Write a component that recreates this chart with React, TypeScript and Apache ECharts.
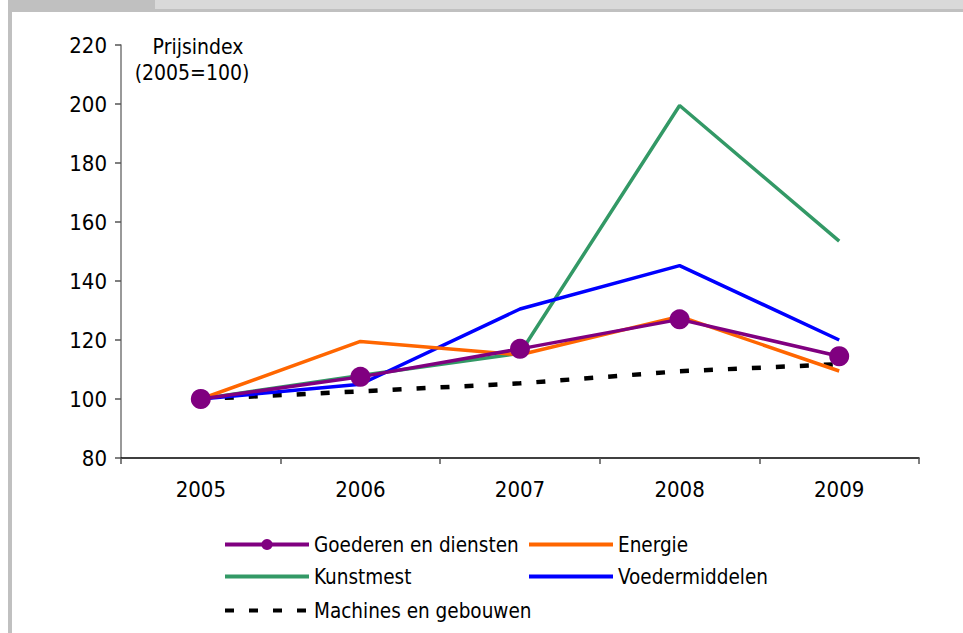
import React, { useEffect, useRef } from "react";
import * as echarts from "echarts";

const years = ["2005", "2006", "2007", "2008", "2009"];
const goederen = [100, 107.5, 117, 127, 114.5];
const energie = [100, 119.5, 115, 128, 109.5];
const kunstmest = [100, 108, 115.5, 199.5, 153.5];
const voedermiddelen = [100, 105, 130.5, 145.2, 120];
const machines = [100, 102.6, 105.3, 109.4, 111.8];

const FONT = "'DejaVu Sans Condensed', 'Liberation Sans Narrow', sans-serif";

export default function App() {
  const ref = useRef<HTMLDivElement>(null);
  useEffect(() => {
    if (!ref.current) return;
    const chart = echarts.init(ref.current, undefined, { renderer: "svg" });
    const legendBase = {
      orient: "horizontal",
      itemWidth: 84,
      itemHeight: 14,
      padding: 0,
      textStyle: { fontFamily: FONT, fontSize: 20.5, color: "#000" },
      lineStyle: { width: 4 },
      selectedMode: false,
    };
    const noSymbol = { color: "rgba(0,0,0,0)", borderWidth: 0, opacity: 0 };
    chart.setOption({
      animation: false,
      backgroundColor: "#fff",
      textStyle: { fontFamily: FONT },
      grid: { left: 121, right: 44, top: 45, bottom: 175, containLabel: false },
      xAxis: {
        type: "category",
        data: years,
        boundaryGap: true,
        axisLine: { lineStyle: { color: "#000", width: 1.5 } },
        axisTick: { show: true, length: 6, lineStyle: { color: "#555", width: 1.5 }, alignWithLabel: false },
        axisLabel: { fontFamily: FONT, fontSize: 22, color: "#000", margin: 20 },
        splitLine: { show: false },
      },
      yAxis: {
        type: "value",
        min: 80,
        max: 220,
        interval: 20,
        axisLine: { show: true, lineStyle: { color: "#777", width: 1.5 } },
        axisTick: { show: true, length: 6, inside: false, lineStyle: { color: "#555", width: 1.5 } },
        axisLabel: { fontFamily: FONT, fontSize: 22, color: "#000", margin: 14 },
        splitLine: { show: false },
      },
      legend: [
        { ...legendBase, left: 223, top: 534, data: ["Goederen en diensten"] },
        { ...legendBase, left: 527, top: 534, itemStyle: noSymbol, data: ["Energie"] },
        { ...legendBase, left: 223, top: 566, itemStyle: noSymbol, data: ["Kunstmest"] },
        { ...legendBase, left: 527, top: 566, itemStyle: noSymbol, data: ["Voedermiddelen"] },
        { ...legendBase, left: 223, top: 600, itemStyle: noSymbol, data: ["Machines en gebouwen"] },
      ],
      graphic: [
        { type: "rect", shape: { x: 8, y: 0, width: 4, height: 633 }, style: { fill: "#c0c0c0" }, z: 100 },
        { type: "rect", shape: { x: 8, y: 0, width: 147, height: 12 }, style: { fill: "#c0c0c0" }, z: 100 },
        { type: "rect", shape: { x: 155, y: 0, width: 808, height: 9 }, style: { fill: "#d9d9d9" }, z: 100 },
        { type: "rect", shape: { x: 155, y: 9, width: 808, height: 3 }, style: { fill: "#c0c0c0" }, z: 100 },
        {
          type: "text",
          x: 198,
          y: 47,
          style: { text: "Prijsindex", fontFamily: FONT, fontSize: 21, fill: "#000", textAlign: "center", textVerticalAlign: "middle" },
        },
        {
          type: "text",
          x: 192,
          y: 73,
          style: { text: "(2005=100)", fontFamily: FONT, fontSize: 21, fill: "#000", textAlign: "center", textVerticalAlign: "middle" },
        },
      ],
      series: [
        {
          name: "Machines en gebouwen",
          type: "line",
          data: machines,
          symbol: "none",
          z: 2,
          lineStyle: { color: "#000", width: 4.5, type: [9, 15] },
          itemStyle: { color: "#000" },
        },
        {
          name: "Kunstmest",
          type: "line",
          data: kunstmest,
          symbol: "none",
          z: 3,
          lineStyle: { color: "#339966", width: 3.5 },
          itemStyle: { color: "#339966" },
        },
        {
          name: "Voedermiddelen",
          type: "line",
          data: voedermiddelen,
          symbol: "none",
          z: 4,
          lineStyle: { color: "#0000ff", width: 3.5 },
          itemStyle: { color: "#0000ff" },
        },
        {
          name: "Energie",
          type: "line",
          data: energie,
          symbol: "none",
          z: 5,
          lineStyle: { color: "#ff6600", width: 3.5 },
          itemStyle: { color: "#ff6600" },
        },
        {
          name: "Goederen en diensten",
          type: "line",
          data: goederen,
          symbol: "circle",
          symbolSize: 20,
          z: 6,
          lineStyle: { color: "#800080", width: 3.5 },
          itemStyle: { color: "#800080" },
        },
      ],
    });
    return () => chart.dispose();
  }, []);
  return (
    <div
      ref={ref}
      style={{ position: "absolute", left: 0, top: 0, width: 963, height: 633 }}
    />
  );
}
